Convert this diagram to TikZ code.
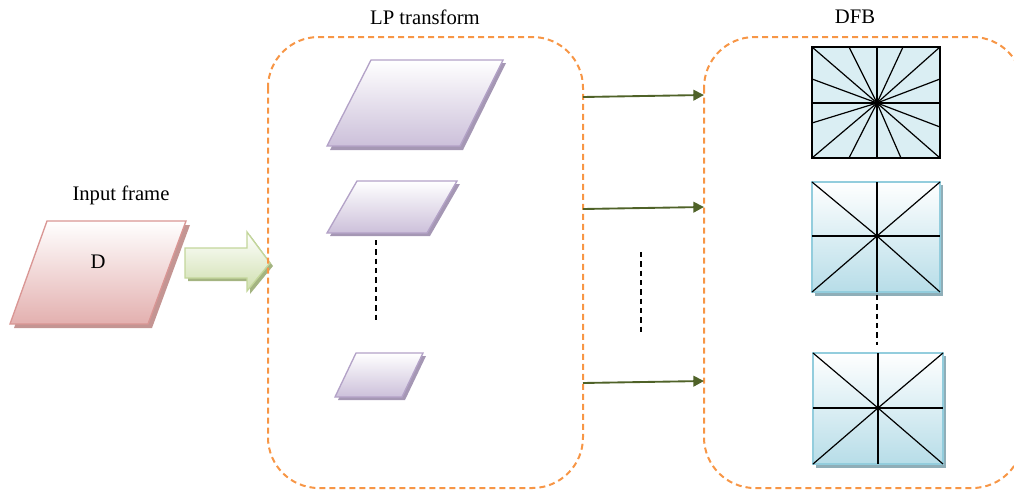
\documentclass[tikz,border=0pt]{standalone}
\usepackage{fontspec}
\setmainfont{Liberation Serif}
\usetikzlibrary{arrows.meta}
\definecolor{boxorange}{HTML}{F79646}
\definecolor{arrowgreen}{HTML}{4F6228}
\definecolor{redline}{HTML}{D99694}
\definecolor{redfill}{HTML}{E3B0AF}
\definecolor{redshadow}{HTML}{C49593}
\definecolor{greenline}{HTML}{C3D69B}
\definecolor{greenfill}{HTML}{CFDFAE}
\definecolor{greenshadow}{HTML}{A4B481}
\definecolor{purpleline}{HTML}{B3A2C7}
\definecolor{purplefill}{HTML}{CCC0DA}
\definecolor{purpleshadow}{HTML}{A597B4}
\definecolor{blueline}{HTML}{93CDDD}
\definecolor{bluefill}{HTML}{B7DDE8}
\definecolor{blueshadow}{HTML}{8FAEB8}
\definecolor{bluesolid}{HTML}{DAEEF3}
\begin{document}
\begin{tikzpicture}[x=0.75pt,y=-0.75pt,
  label text/.style={font=\fontsize{15.5}{18}\selectfont, inner sep=0pt},
  stagebox/.style={draw=boxorange, line width=1.5pt, dash pattern=on 4.5pt off 3pt, rounded corners=38pt},
  flow/.style={draw=arrowgreen, line width=1.4pt, -{Triangle[length=8pt,width=8pt]}},
  gap/.style={draw=black, line width=1.1pt, dash pattern=on 4pt off 3pt},
  redpar/.style={draw=redline, line width=1pt, top color=white, bottom color=redfill},
  greenarr/.style={draw=greenline, line width=1pt, top color=white, bottom color=greenfill},
  purplepar/.style={draw=purpleline, line width=1pt, top color=white, bottom color=purplefill},
  bluesq/.style={draw=blueline, line width=1pt, top color=white, bottom color=bluefill},
  spoke/.style={draw=black, line width=0.9pt}]
\useasboundingbox (0,0) rectangle (1014,493);

% ---------- input frame ----------
\node[label text] (inlabel) at (121,195) {Input frame};
\fill[redshadow] (51,225) -- (190,225) -- (152,328) -- (14,328) -- cycle;
\path[redpar] (47,221) -- (186,221) -- (148,324) -- (10,324) -- cycle;
\node[label text] (dlabel) at (98,262) {D};

% ---------- block arrow into the LP stage ----------
\fill[greenshadow] (188,251) -- (250,251) -- (250,235) -- (273,266) -- (250,294) -- (250,281) -- (188,281) -- cycle;
\path[greenarr] (185,248) -- (247,248) -- (247,232) -- (270,263) -- (247,291) -- (247,278) -- (185,278) -- cycle;

% ---------- stage frames ----------
\node[label text] (lplabel) at (425,17) {LP transform};
\node[label text] (dfblabel) at (855,17) {DFB};
\path[stagebox] (268,37) rectangle (583,488);
\begin{scope}
  \clip (690,0) rectangle (1014,493);
  \path[stagebox] (704,37) rectangle (1023,488);
\end{scope}

% ---------- LP pyramid levels ----------
\fill[purpleshadow] (374,63) -- (506,63) -- (463,150) -- (330,150) -- cycle;
\path[purplepar] (371,60) -- (503,60) -- (460,146) -- (327,146) -- cycle;
\fill[purpleshadow] (360,184) -- (460,184) -- (430,236) -- (330,236) -- cycle;
\path[purplepar] (357,181) -- (457,181) -- (427,233) -- (327,233) -- cycle;
\fill[purpleshadow] (359,356) -- (426,356) -- (405,400) -- (338,400) -- cycle;
\path[purplepar] (356,353) -- (423,353) -- (402,397) -- (335,397) -- cycle;
\coordinate (lpgapa) at (376,240);
\coordinate (lpgapb) at (376,323);
\draw[gap] (lpgapa) -- (lpgapb);

% ---------- connectors between the stages ----------
\coordinate (lpa) at (583,97);  \coordinate (dfba) at (704,95);
\coordinate (lpb) at (583,209); \coordinate (dfbb) at (704,207);
\coordinate (lpc) at (583,383); \coordinate (dfbc) at (704,381);
\draw[flow] (lpa) -- (dfba);
\draw[flow] (lpb) -- (dfbb);
\draw[flow] (lpc) -- (dfbc);
\coordinate (midgapa) at (641,252);
\coordinate (midgapb) at (641,333);
\draw[gap] (midgapa) -- (midgapb);

% ---------- DFB: fine directional split ----------
\path[fill=bluesolid, draw=black, line width=1.1pt] (812,47) rectangle (940,158);
\coordinate (c1) at (877,103);
\foreach \p in {(812,47),(849,47),(877,47),(903,47),(940,47),
                (812,79),(812,103),(812,123),
                (940,79),(940,103),(940,127),
                (812,158),(849,158),(877,158),(901,158),(940,158)}
  \draw[spoke] (c1) -- \p;

% ---------- DFB: coarse split ----------
\fill[blueshadow] (815,185) rectangle (943,296);
\path[bluesq] (812,182) rectangle (940,292);
\coordinate (c2) at (877,236);
\foreach \p in {(812,182),(877,182),(940,182),(812,236),(940,236),(812,292),(877,292),(940,292)}
  \draw[spoke] (c2) -- \p;

\coordinate (dfbgapa) at (877,295);
\coordinate (dfbgapb) at (877,345);
\draw[gap] (dfbgapa) -- (dfbgapb);

\fill[blueshadow] (816,356) rectangle (946,468);
\path[bluesq] (813,353) rectangle (943,464);
\coordinate (c3) at (878,408);
\foreach \p in {(813,353),(878,353),(943,353),(813,408),(943,408),(813,464),(878,464),(943,464)}
  \draw[spoke] (c3) -- \p;
\end{tikzpicture}
\end{document}
